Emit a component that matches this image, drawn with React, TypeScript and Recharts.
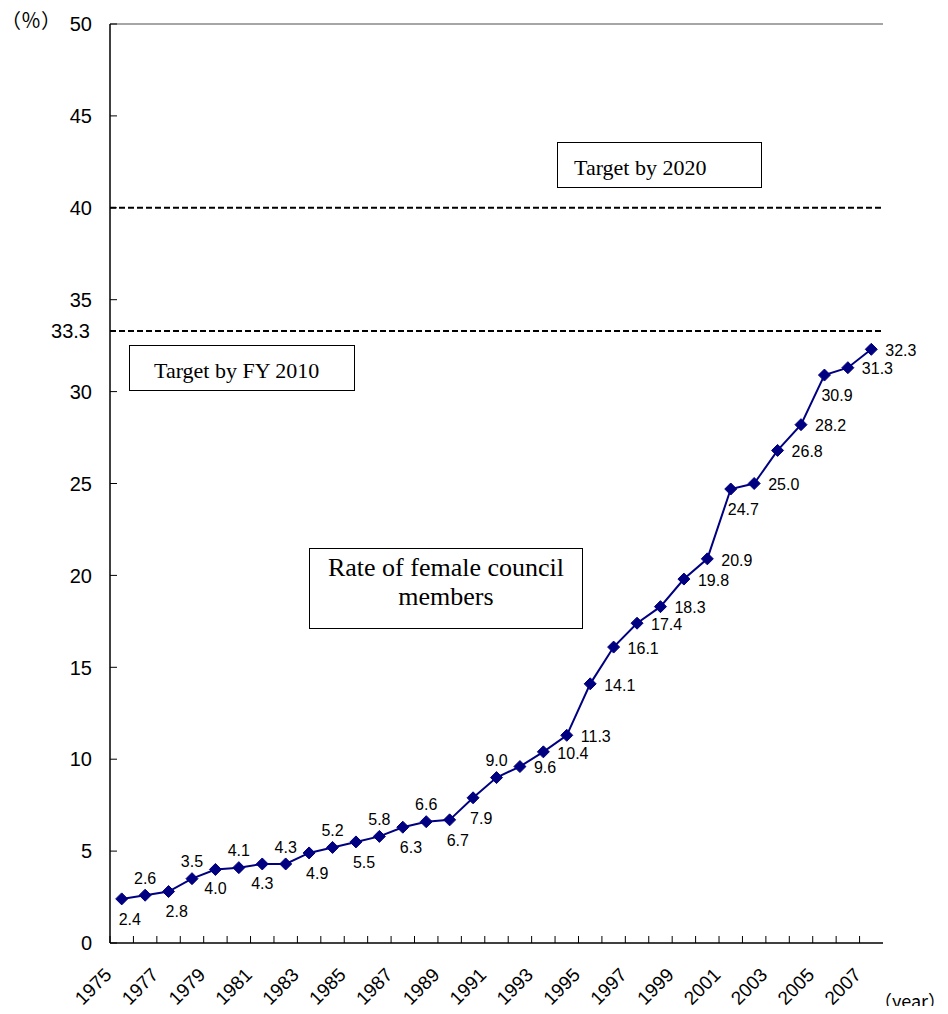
import React from 'react';
import { LineChart, Line, XAxis, YAxis, ReferenceLine } from 'recharts';

// Survey years and the share of women on councils (%)
const years = [
  '1975', '1976', '1977', '1978', '1979', '1980', '1981', '1982', '1983', '1984',
  '1985', '1986', '1987', '1988', '1989', '1990', '1991', '1992', '1993', '1994',
  '1995', '1996', '1997', '1998', '1999', '2000', '2001', '2002', '2003', '2004',
  '2005', '2006', '2007',
];
const rates = [
  2.4, 2.6, 2.8, 3.5, 4.0, 4.1, 4.3, 4.3, 4.9, 5.2,
  5.5, 5.8, 6.3, 6.6, 6.7, 7.9, 9.0, 9.6, 10.4, 11.3,
  14.1, 16.1, 17.4, 18.3, 19.8, 20.9, 24.7, 25.0, 26.8, 28.2,
  30.9, 31.3, 32.3,
];
// Where each value label sits relative to its marker:
// T = above, B = below, b = below (centred), R = to the right
const labelSide = [
  'B', 'T', 'B', 'T', 'b', 'T', 'b', 'T', 'B', 'T',
  'B', 'T', 'B', 'T', 'B', 'B', 'T', 'R', 'R', 'R',
  'R', 'R', 'R', 'R', 'R', 'R', 'B', 'R', 'R', 'R',
  'B', 'R', 'R',
];
const yTicks = [0, 5, 10, 15, 20, 25, 30, 35, 40, 45, 50];
const target2010 = 33.3;
const target2020 = 40;

const data = years.map((year, i) => ({ year, rate: rates[i] }));

const SANS = "'Liberation Sans', Arial, sans-serif";
const SERIF = "'Liberation Serif', 'Times New Roman', serif";
const CJK = "'Noto Sans CJK JP', sans-serif";

const CHART_W = 932;
const CHART_H = 1006;
const MARGIN = { top: 16, right: 57, bottom: 5, left: 42 };
const Y_AXIS_W = 60;
const X_AXIS_H = 66;
const PLOT_W = CHART_W - MARGIN.left - MARGIN.right - Y_AXIS_W;
const BAND_W = PLOT_W / years.length;

const NAVY = '#000080';

function YTick(props: any) {
  const { x, y, payload } = props;
  return (
    <g>
      <line x1={x} x2={x + 7} y1={y} y2={y} stroke="#000" strokeWidth={1} />
      <text x={x - 18} y={y} dy="0.36em" textAnchor="end" fontSize={20} fontFamily={SANS} fill="#000">
        {payload.value}
      </text>
    </g>
  );
}

function XTick(props: any) {
  const { x, y, payload, index } = props;
  const bx = x - BAND_W / 2;
  const lx = x - 9;
  const ly = y + 33;
  return (
    <g>
      <line x1={bx} x2={bx} y1={y} y2={y - 7} stroke="#000" strokeWidth={1} />
      {index % 2 === 0 && (
        <text
          x={lx}
          y={ly}
          transform={`rotate(-45, ${lx}, ${ly})`}
          textAnchor="end"
          fontSize={19}
          fontFamily={SANS}
          fill="#000"
        >
          {payload.value}
        </text>
      )}
    </g>
  );
}

function MarkerWithLabel(props: any) {
  const { cx, cy, index } = props;
  if (cx == null || cy == null) return <g key={`m${index}`} />;
  const r = 6;
  const side = labelSide[index];
  const text = rates[index].toFixed(1);
  let tx = cx;
  let ty = cy;
  let anchor: 'start' | 'middle' | 'end' = 'start';
  if (side === 'T') {
    tx = cx;
    ty = cy - 17;
    anchor = 'middle';
  } else if (side === 'B') {
    tx = cx - 3;
    ty = cy + 20;
  } else if (side === 'b') {
    tx = cx;
    ty = cy + 19;
    anchor = 'middle';
  } else {
    tx = cx + 14;
    ty = cy + 1;
  }
  return (
    <g key={`m${index}`}>
      <polygon
        points={`${cx},${cy - r} ${cx + r},${cy} ${cx},${cy + r} ${cx - r},${cy}`}
        fill={NAVY}
        stroke={NAVY}
        strokeWidth={1}
      />
      <text x={tx} y={ty} dy="0.36em" textAnchor={anchor} fontSize={16} fontFamily={SANS} fill="#000">
        {text}
      </text>
    </g>
  );
}

const boxStyle: React.CSSProperties = {
  position: 'absolute',
  boxSizing: 'border-box',
  border: '1.5px solid #000',
  background: '#fff',
  fontFamily: SERIF,
  color: '#000',
  whiteSpace: 'nowrap',
};

const unitStyle: React.CSSProperties = {
  position: 'absolute',
  fontFamily: CJK,
  lineHeight: '24px',
  whiteSpace: 'nowrap',
  color: '#000',
};

export default function App() {
  return (
    <div style={{ position: 'relative', width: CHART_W, height: CHART_H, marginBottom: -8 }}>
      <LineChart width={CHART_W} height={CHART_H} data={data} margin={MARGIN}>
        <XAxis
          dataKey="year"
          interval={0}
          height={X_AXIS_H}
          padding={{ left: BAND_W / 2, right: BAND_W / 2 }}
          tickSize={0}
          tickMargin={0}
          tickLine={false}
          axisLine={{ stroke: '#000', strokeWidth: 1.5 }}
          tick={<XTick />}
        />
        <YAxis
          domain={[0, 50]}
          ticks={yTicks}
          width={Y_AXIS_W}
          tickSize={0}
          tickMargin={0}
          tickLine={false}
          axisLine={{ stroke: '#000', strokeWidth: 1.5 }}
          tick={<YTick />}
          interval={0}
        />
        <YAxis
          yAxisId="r"
          orientation="right"
          domain={[0, 50]}
          width={0}
          tick={false}
          tickLine={false}
          axisLine={{ stroke: '#888', strokeWidth: 1.5 }}
        />
        <ReferenceLine y={50} stroke="#888" strokeWidth={1.5} />
        <ReferenceLine y={target2020} stroke="#000" strokeWidth={2} strokeDasharray="6 3" />
        <ReferenceLine
          y={target2010}
          stroke="#000"
          strokeWidth={2}
          strokeDasharray="6 3"
          label={{ value: '33.3', position: 'left', offset: 20, fill: '#000', fontSize: 20, fontFamily: SANS }}
        />
        <Line
          dataKey="rate"
          stroke={NAVY}
          strokeWidth={2}
          dot={MarkerWithLabel}
          activeDot={false}
          isAnimationActive={false}
        />
      </LineChart>

      <div style={{ ...unitStyle, fontSize: 20, left: -7, top: 0 }}>（％）</div>
      <div style={{ ...unitStyle, fontSize: 18, right: -6, top: 980 }}>（year）</div>

      <div style={{ ...boxStyle, left: 549, top: 134, width: 205, height: 46, fontSize: 22, lineHeight: '22px', paddingLeft: 16, paddingTop: 14 }}>
        Target by 2020
      </div>
      <div style={{ ...boxStyle, left: 121, top: 337, width: 226, height: 46, fontSize: 22, lineHeight: '22px', paddingLeft: 24, paddingTop: 14 }}>
        Target by FY 2010
      </div>
      <div style={{ ...boxStyle, left: 301, top: 540, width: 274, height: 81, fontSize: 26, lineHeight: '29px', paddingTop: 4, textAlign: 'center' }}>
        Rate of female council
        <br />
        members
      </div>
    </div>
  );
}
